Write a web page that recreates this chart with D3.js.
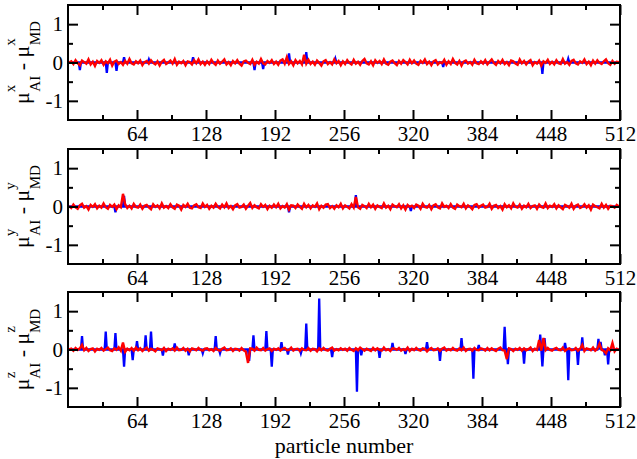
<!DOCTYPE html>
<html>
<head>
<meta charset="utf-8">
<script src="https://cdn.jsdelivr.net/npm/d3@7"></script>
<style>
  body { margin: 0; background: #fff; }
  text { font-family: "Liberation Serif", "Times New Roman", serif; }
</style>
</head>
<body>
<svg id="chart"></svg>
<script>
// red series, every 2nd particle (1,3,5,...), values in hundredths
var redX = [
  0,3,-4,6,-2,-7,5,1,-3,8,-5,2,-9,4,-1,6,-6,3,-2,7,-8,2,5,-4,1,-6,4,-3,9,-2,-5,3,
  -2,5,-7,1,4,-3,6,-1,-5,3,-8,2,7,-4,0,5,-3,9,-6,2,-2,4,-7,3,1,-5,6,-2,8,-4,2,-6,
  3,-4,7,-1,-6,5,-3,2,8,-5,1,-7,4,-2,6,-3,-8,3,5,-1,-4,7,-6,2,-3,9,-2,-5,4,-1,6,-4,
  2,-6,5,8,-3,14,-4,3,-7,6,-2,4,-5,20,-3,7,-4,2,-6,5,-1,-8,3,6,-4,1,-5,8,-2,4,-7,3,
  -4,6,-1,-5,7,-3,2,-6,4,9,-2,-5,3,-7,6,-1,4,-4,8,-3,-6,2,5,-2,-7,4,-3,6,1,-5,7,-2,
  5,-3,-6,4,-1,8,-4,2,-7,3,6,-5,1,-2,7,-6,3,-4,9,-1,-5,4,-8,2,5,-3,1,-6,7,-2,-4,3,
  -3,6,-5,2,8,-1,-6,4,-2,7,-4,1,-7,5,3,-3,-6,8,-2,4,-5,2,6,-7,1,-3,5,-8,3,-1,7,-4,
  2,-5,6,-2,-4,9,-3,1,-6,4,7,-2,-5,3,-1,8,-4,2,-7,5,-3,6,-1,-4,3,8,-2,-6,4,-3,2,1
];
var redY = [
  1,-4,5,-2,-6,3,7,-3,1,-8,4,-1,6,-5,2,-3,8,-2,-6,4,-1,5,-7,3,-2,33,6,-4,2,-5,7,-1,
  -3,5,-6,2,4,-2,-7,6,-1,3,-5,8,-3,1,-4,6,-2,-6,5,2,-8,4,-1,7,-3,-5,3,6,-2,-4,8,-1,
  4,-6,2,-3,7,-1,-5,5,-2,8,-4,1,-7,3,6,-3,-1,5,-6,2,9,-4,3,-2,-5,6,-1,4,-7,2,-3,5,
  -2,7,-5,1,-3,6,-8,3,2,-4,5,-1,-6,7,-2,4,-5,3,-1,8,-7,2,-3,5,6,-4,1,-6,3,-2,7,-5,
  3,-1,-5,6,-3,25,-2,-6,4,1,-4,7,-2,5,-6,3,-1,-4,8,-3,2,-7,5,1,-2,6,-5,3,-8,4,-1,2,
  -4,5,2,-6,7,-1,-3,4,-7,3,6,-2,-5,8,-1,2,-4,6,-3,-6,5,1,-2,7,-5,3,-1,-7,4,6,-3,2,
  5,-3,-1,7,-6,2,4,-4,1,-8,6,-2,3,-5,8,-1,-3,5,-6,2,-2,7,-4,1,3,-6,5,-1,-3,8,-4,2,
  -1,6,-5,3,-2,-7,4,1,-3,7,-6,2,5,-4,-1,6,-3,3,-8,5,1,-2,-5,7,-3,4,-6,2,1,-3,4,0
];
var redZ = [
  0,2,-3,4,-1,3,12,-2,4,-4,1,3,-5,2,-1,4,-3,1,5,-2,-4,3,-1,6,-3,18,-6,2,-2,4,-3,5,
  -2,3,-4,1,5,-3,2,-1,-5,3,1,-2,4,-4,2,-1,3,-3,5,-2,-1,4,-3,2,-5,3,1,-2,4,-1,-3,2,
  3,-2,1,-4,4,-1,-3,2,5,-2,-1,3,-4,2,1,-3,4,-2,-6,-35,3,2,-3,5,-1,-2,4,-3,1,3,-4,2,
  -1,3,-3,2,4,-2,-1,5,-3,1,2,-4,3,-1,-2,4,-3,2,1,-5,3,-2,4,-1,-3,2,5,-3,1,-2,3,-1,
  2,-3,4,-1,-4,3,-2,5,1,-3,2,-1,-4,4,-2,3,-1,-3,5,-2,1,-4,3,2,-1,4,-3,1,-2,5,-4,2,
  -2,4,-1,-3,3,2,-5,1,4,-2,-1,3,-4,2,5,-3,1,-2,4,-1,-3,3,-2,5,-4,1,2,-3,4,-1,-2,3,
  1,-3,4,-2,3,-1,-4,2,5,-2,-3,-25,3,1,-4,2,-1,4,-3,3,-2,1,5,-4,2,-1,25,-3,30,-2,4,-1,
  -3,2,4,-1,-2,5,-4,1,3,-2,-1,4,-3,2,12,-4,3,1,-2,5,-3,2,15,-1,-4,-10,3,-2,17,-5,2,-1
];

// blue series: [particle, value] where it leaves the red band, zero elsewhere
var blueX = [[11,-0.2],[36,-0.27],[45,-0.22],[52,0.14],[75,0.08],[116,0.14],[173,-0.2],
  [181,-0.17],[205,0.24],[221,0.27],[248,0.1],[348,-0.12],[440,-0.3],[464,0.1]];
var blueY = [[44,-0.15],[52,0.28],[205,-0.15],[267,0.3],[318,-0.12]];
var blueZ = [[13,0.35],[35,0.47],[44,0.43],[52,-0.45],[60,-0.28],[64,0.22],[72,0.37],[77,0.47],
  [88,-0.16],[99,0.16],[112,-0.15],[125,-0.1],[137,0.35],[141,-0.1],[168,-0.3],[172,0.37],
  [184,0.48],[189,-0.45],[198,0.19],[204,-0.13],[216,-0.1],[221,0.68],[233,1.33],[245,-0.2],
  [268,-1.1],[272,-0.15],[289,-0.22],[301,0.17],[313,-0.12],[333,0.19],[345,-0.3],[365,0.3],
  [376,-0.76],[381,0.12],[405,0.59],[408,-0.38],[423,-0.37],[438,0.39],[440,-0.44],[442,0.3],
  [461,0.17],[464,-0.8],[473,-0.4],[477,0.32],[492,0.28],[494,0.2],[498,-0.15],[501,-0.39]];

var xTicks = [64, 128, 192, 256, 320, 384, 448, 512];
var xMinor = [32, 96, 160, 224, 288, 352, 416, 480];
var yTicks = [-1, 0, 1];
var yMinor = [-0.5, 0.5];

var panels = [
  {comp: "x", red: redX, blue: blueX, top: 5},
  {comp: "y", red: redY, blue: blueY, top: 149},
  {comp: "z", red: redZ, blue: blueZ, top: 292}
];

var screen = {width: 637, height: 459};
var margin = {left: 68, right: 17};
var width = screen.width - margin.left - margin.right;
var height = 115;

var svg = d3.select("#chart")
  .attr("width", screen.width)
  .attr("height", screen.height);

var xScale = d3.scaleLinear().domain([0, 512]).range([0, width]);
var yScale = d3.scaleLinear().domain([-1.5, 1.5]).range([height, 0]);

var line = d3.line()
  .x(function(d) { return xScale(d[0]); })
  .y(function(d) { return yScale(d[1]); });

var bluePoints = function(spikes) {
  var pts = [[1, 0]];
  spikes.forEach(function(s) {
    pts.push([s[0] - 1, 0]);
    pts.push(s);
    pts.push([s[0] + 1, 0]);
  });
  pts.push([512, 0]);
  return pts;
};

var redPoints = function(vals) {
  return vals.map(function(v, i) { return [1 + 2 * i, v / 100]; });
};

// plain hyphen instead of the unicode minus
var yFormat = function(d) { return d < 0 ? "-" + (-d) : "" + d; };

var styleAxis = function(g) {
  g.select(".domain").remove();
  g.selectAll(".tick line").attr("stroke", "#000").attr("stroke-width", 2);
  g.selectAll("text").attr("font-size", 21).attr("fill", "#000")
    .attr("font-family", "Liberation Serif");
};

panels.forEach(function(p) {
  var g = svg.append("g")
    .attr("transform", "translate(" + margin.left + "," + p.top + ")");

  g.append("defs").append("clipPath").attr("id", "clip" + p.comp)
    .append("rect").attr("width", width).attr("height", height);

  var plot = g.append("g").attr("clip-path", "url(#clip" + p.comp + ")");

  plot.append("path")
    .datum(bluePoints(p.blue))
    .attr("d", line)
    .attr("fill", "none")
    .attr("stroke", "#0000ff")
    .attr("stroke-width", 2.3);

  plot.append("path")
    .datum(redPoints(p.red))
    .attr("d", line)
    .attr("fill", "none")
    .attr("stroke", "#ff0000")
    .attr("stroke-width", 2.4);

  // ticks pointing inward on all four sides
  g.append("g").attr("transform", "translate(0," + height + ")")
    .call(d3.axisBottom(xScale).tickValues(xTicks).tickSize(-10).tickPadding(6))
    .call(styleAxis);
  g.append("g").attr("transform", "translate(0," + height + ")")
    .call(d3.axisBottom(xScale).tickValues(xMinor).tickSize(-5).tickFormat(""))
    .call(styleAxis);
  g.append("g")
    .call(d3.axisTop(xScale).tickValues(xTicks).tickSize(-10).tickFormat(""))
    .call(styleAxis);
  g.append("g")
    .call(d3.axisTop(xScale).tickValues(xMinor).tickSize(-5).tickFormat(""))
    .call(styleAxis);

  g.append("g")
    .call(d3.axisLeft(yScale).tickValues(yTicks).tickSize(-10).tickPadding(5).tickFormat(yFormat))
    .call(styleAxis);
  g.append("g")
    .call(d3.axisLeft(yScale).tickValues(yMinor).tickSize(-5).tickFormat(""))
    .call(styleAxis);
  g.append("g").attr("transform", "translate(" + width + ",0)")
    .call(d3.axisRight(yScale).tickValues(yTicks).tickSize(-10).tickFormat(""))
    .call(styleAxis);
  g.append("g").attr("transform", "translate(" + width + ",0)")
    .call(d3.axisRight(yScale).tickValues(yMinor).tickSize(-5).tickFormat(""))
    .call(styleAxis);

  g.append("rect")
    .attr("width", width).attr("height", height)
    .attr("fill", "none").attr("stroke", "#000").attr("stroke-width", 2);

  // y title: mu^c_AI - mu^c_MD
  var t = g.append("text")
    .attr("transform", "translate(-39," + (height / 2) + ") rotate(-90)")
    .attr("text-anchor", "middle")
    .attr("font-family", "Liberation Serif")
    .attr("font-size", 22);
  t.append("tspan").text("\u03bc");
  t.append("tspan").attr("font-size", 15).attr("dy", -14).text(p.comp);
  t.append("tspan").attr("font-size", 15).attr("dx", -7).attr("dy", 25).text("AI");
  t.append("tspan").attr("dy", -11).text(" - \u03bc");
  t.append("tspan").attr("font-size", 15).attr("dy", -14).text(p.comp);
  t.append("tspan").attr("font-size", 15).attr("dx", -7).attr("dy", 25).text("MD");
});

svg.append("text")
  .attr("x", margin.left + width / 2)
  .attr("y", 452.5)
  .attr("text-anchor", "middle")
  .attr("font-family", "Liberation Serif")
  .attr("font-size", 22)
  .text("particle number");
</script>
</body>
</html>
